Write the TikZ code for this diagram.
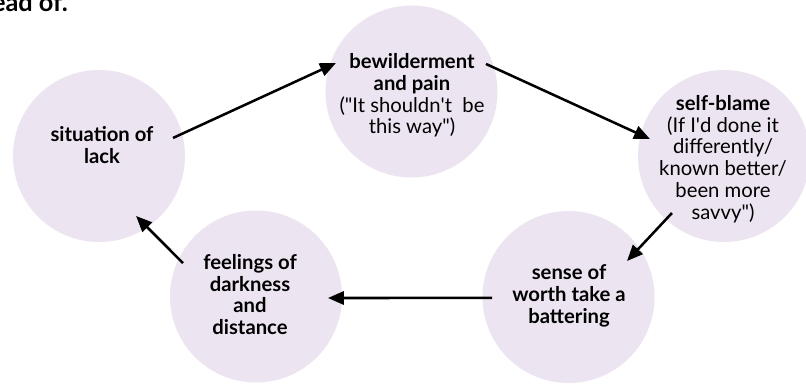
\documentclass[tikz,border=0pt]{standalone}
\usepackage{fontspec}
\setmainfont{Lato}
\usepackage{xcolor}
\usetikzlibrary{arrows.meta, calc}

\definecolor{bubblefill}{RGB}{236,228,240}

\tikzset{
    bubble/.style={circle, fill=bubblefill, minimum size=129pt, inner sep=0pt},
    words/.style={align=center, font=\fontsize{15.2}{16.3}\selectfont},
    flow/.style={-{Triangle[length=12pt, width=10pt]}, line width=1.9pt},
}

\begin{document}
\begin{tikzpicture}[x=0.75pt, y=0.75pt]
    \useasboundingbox (0, 0) rectangle (806, -385);

    % cut-off heading at the top
    \node[anchor=base east, inner sep=0pt, font=\bfseries\fontsize{19}{22}\selectfont] (heading) at (68, -12) {instead of.};

    % the five stages
    \node[bubble] (lack) at (99, -156) {};
    \node[bubble] (bew) at (411.5, -91.5) {};
    \node[bubble] (blame) at (724, -156) {};
    \node[bubble] (worth) at (568.5, -297) {};
    \node[bubble] (dark) at (256, -296.5) {};

    \node[words] (lack-t) at ($(lack) + (3, 11)$) {\textbf{situation of}\\\textbf{lack}};
    \node[words] (bew-t) at ($(bew) + (0.5, -4)$) {\textbf{bewilderment}\\\textbf{and pain}\\(\textquotedbl It shouldn\textquotesingle t\ \ be\\this way\textquotedbl)};
    \node[words] (blame-t) at ($(blame) + (-1, -3)$) {\textbf{self-blame}\\(If I\textquotesingle d done it\\differently/\\known better/\\been more\\savvy\textquotedbl)};
    \node[words] (worth-t) at ($(worth) + (0.5, 1)$) {\textbf{sense of}\\\textbf{worth take a}\\\textbf{battering}};
    \node[words] (dark-t) at ($(dark) + (-6, 2)$) {\textbf{feelings of}\\\textbf{darkness}\\\textbf{and}\\\textbf{distance}};

    % the cycle
    \draw[flow] ($(lack) + (13.7:76.2)$) -- ($(bew) + (159.3:80.7)$);
    \draw[flow] ($(bew) + (20.3:79.4)$) -- ($(blame) + (167.1:75.9)$);
    \draw[flow] ($(blame) + (227.6:77.2)$) -- ($(worth) + (31.6:68.7)$);
    \draw[flow] ($(worth) + (180.7:76.5)$) -- ($(dark) + (-1.2:72)$);
    \draw[flow] ($(dark) + (155.4:80.3)$) -- ($(lack) + (301.7:70.5)$);
\end{tikzpicture}
\end{document}
